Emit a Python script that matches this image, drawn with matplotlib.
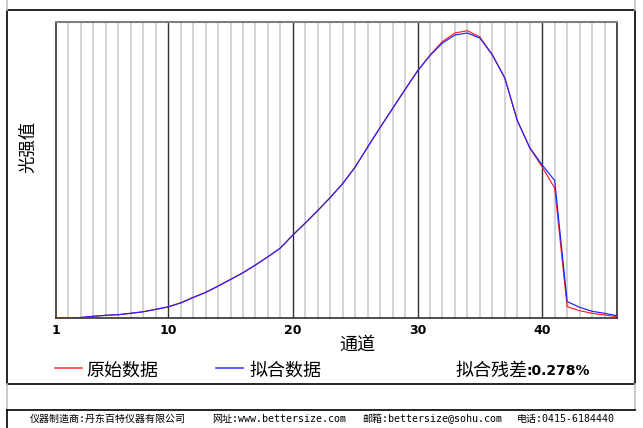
import matplotlib.pyplot as plt
import numpy as np
from matplotlib.lines import Line2D

# Data (light intensity per detector channel)
channels = np.arange(1, 47)
raw = [0, 0, 0.5, 1.7, 2.7, 3.3, 4.7, 6.3, 8.7, 11.3,
       15.3, 20.7, 25.7, 32, 38.7, 45.3, 53, 61.3, 70, 83,
       95, 107.5, 120.5, 134.5, 151, 171, 190.5, 209.5, 228.5, 247,
       263, 276.5, 285, 287.3, 281, 263.5, 240, 197.5, 170, 151,
       130, 11.3, 7.3, 4.7, 3, 1.3]
fit = [0, 0, 0.5, 1.7, 2.7, 3.3, 4.7, 6.2, 8.6, 11.0,
       15.0, 20.4, 25.5, 31.8, 38.5, 45.2, 53, 61.2, 70, 83,
       95, 107.5, 120.5, 134.5, 151, 171, 190.5, 209.5, 228.5, 247,
       262.5, 275, 283, 285, 280, 263, 240, 197.5, 170.5, 153,
       137.5, 16.5, 10.7, 6.7, 4.7, 2.3]
major_ticks = [1, 10, 20, 30, 40]
residual = 0.278

W, H = 643, 428
def fx(x):
    return x / W
def fy(y):
    return 1 - y / H

cjk = ['Noto Sans CJK SC', 'DejaVu Sans']

fig = plt.figure(figsize=(W / 100, H / 100), dpi=100)
fig.patch.set_facecolor('white')

ax = fig.add_axes([fx(56), fy(318), (617 - 56) / W, (318 - 22) / H])

# vertical channel grid
for c in channels[1:-1]:
    if c in major_ticks:
        ax.axvline(c, color='#303030', lw=1.0, zorder=1)
    else:
        ax.axvline(c, color='#cccccc', lw=1.2, zorder=0)

ax.plot(channels, raw, color='#ff2020', lw=0.85, zorder=3)
ax.plot(channels, fit, color='#2020ff', lw=0.85, zorder=4)

ax.set_xlim(1, 46)
ax.set_ylim(0, 296)
ax.set_xticks(major_ticks)
ax.set_xticklabels([str(t) for t in major_ticks], fontsize=9, fontweight='bold')
ax.tick_params(axis='x', length=0, pad=4)
ax.set_yticks([])
for s in ['left', 'bottom', 'right']:
    ax.spines[s].set_color('#303030')
    ax.spines[s].set_linewidth(1.2)
ax.spines['top'].set_color('#808080')
ax.spines['top'].set_linewidth(1.5)

# axis titles
fig.text(fx(357), fy(345), '通道', family=cjk, fontsize=13, ha='center', va='center')
fig.text(fx(28), fy(147), '光强值', family=cjk, fontsize=12.5, rotation=90,
         ha='center', va='center')

# legend row
fig.add_artist(Line2D([fx(55), fx(82)], [fy(368), fy(368)], color='#ff4040', lw=1.2))
fig.text(fx(86), fy(371), '原始数据', family=cjk, fontsize=13, ha='left', va='center')
fig.add_artist(Line2D([fx(216), fx(243)], [fy(368), fy(368)], color='#4040ff', lw=1.2))
fig.text(fx(249), fy(371), '拟合数据', family=cjk, fontsize=13, ha='left', va='center')
fig.text(fx(527), fy(371), '拟合残差', family=cjk, fontsize=13, ha='right', va='center')
fig.text(fx(527), fy(371), f':{residual}%', fontsize=10, fontweight='bold',
         ha='left', va='center')

# outer frame and footer box
box = dict(color='black', lw=1.2)
fig.add_artist(Line2D([fx(7), fx(635), fx(635), fx(7), fx(7)],
                      [fy(9.7), fy(9.7), fy(384), fy(384), fy(9.7)], **box))
fig.add_artist(Line2D([fx(7), fx(7)], [fy(0), fy(9.7)], color='#c0c0c0', lw=1.2))
fig.add_artist(Line2D([fx(635), fx(635)], [fy(0), fy(9.7)], color='#c0c0c0', lw=1.2))
fig.add_artist(Line2D([fx(7), fx(7)], [fy(384), fy(409.5)], color='#c0c0c0', lw=1.2))
fig.add_artist(Line2D([fx(635), fx(635)], [fy(384), fy(409.5)], color='#c0c0c0', lw=1.2))
fig.add_artist(Line2D([fx(7), fx(635)], [fy(409.5), fy(409.5)], **box))
fig.add_artist(Line2D([fx(7), fx(7)], [fy(409.5), fy(428)], **box))

# footer
mono = ['DejaVu Sans Mono', 'Noto Sans CJK SC']
footer = [(30, '仪器制造商:丹东百特仪器有限公司'),
          (212, '网址:www.bettersize.com'),
          (362, '邮箱:bettersize@sohu.com'),
          (517, '电话:0415-6184440')]
for x, t in footer:
    fig.text(fx(x), fy(419), t, family=mono, fontsize=7.2, ha='left', va='center')

fig.savefig('out.png', dpi=100)
